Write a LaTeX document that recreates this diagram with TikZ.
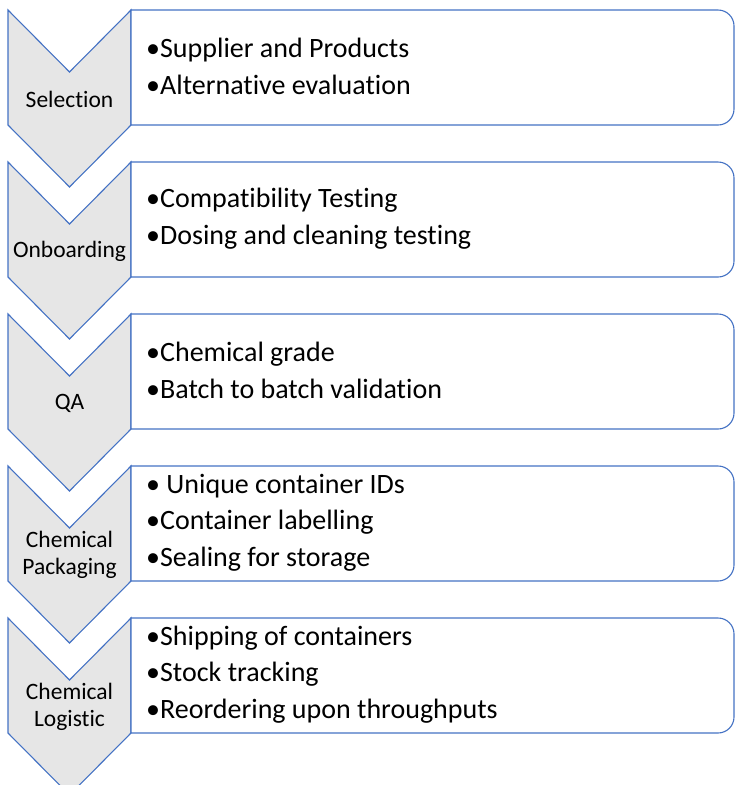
\documentclass[tikz,border=0pt]{standalone}
\usepackage{fontspec}
\setmainfont{Carlito}[Ligatures=NoCommon]
\definecolor{edgeblue}{HTML}{4472C4}
\definecolor{chevgray}{HTML}{E6E6E6}
\tikzset{
  chevron/.style={draw=edgeblue, fill=chevgray, line width=1.1pt, line join=miter},
  itembox/.style={draw=edgeblue, fill=white, line width=1.1pt},
  steplabel/.style={align=center, inner sep=0pt, font=\fontsize{23.5}{27}\selectfont},
  itemtext/.style={align=left, anchor=west, inner sep=0pt, font=\fontsize{28}{36.5}\selectfont},
}
\begin{document}
\begin{tikzpicture}[x=1pt,y=-1pt]
\useasboundingbox (0,0) rectangle (735,785);
\foreach \t/\lab/\items [count=\i] in {
  10/{Selection}/{•Supplier and Products\\•Alternative evaluation},
  162/{Onboarding}/{•Compatibility Testing\\•Dosing and cleaning testing},
  314/{QA}/{•Chemical grade\\•Batch to batch validation},
  466/{Chemical\\Packaging}/{• Unique container IDs\\•Container labelling\\•Sealing for storage},
  618/{Chemical\\Logistic}/{•Shipping of containers\\•Stock tracking\\•Reordering upon throughputs}} {
  \draw[chevron] (8,\t) -- (69.5,\t+62) -- (131,\t) -- (131,\t+115) -- (69.5,\t+177) -- (8,\t+115) -- cycle;
  \draw[itembox] (131,\t) -- (718,\t) arc[start angle=-90, end angle=0, radius=16] -- (734,\t+99) arc[start angle=0, end angle=90, radius=16] -- (131,\t+115) -- cycle;
  \node[steplabel] (lab\i) at (69.5,\t+89) {\lab};
  \node[itemtext] (items\i) at (146,\t+56.5) {\items};
}
\end{tikzpicture}
\end{document}
